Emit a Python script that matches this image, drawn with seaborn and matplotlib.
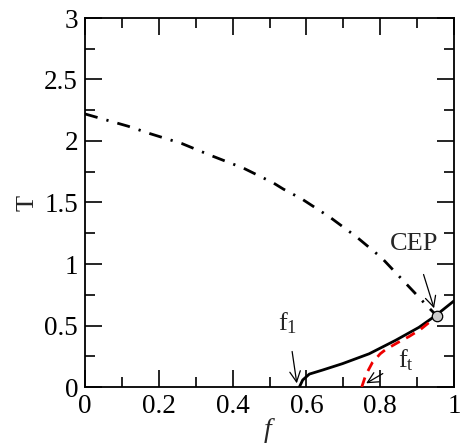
import matplotlib
matplotlib.use("Agg")
import matplotlib.pyplot as plt
import seaborn as sns
import pandas as pd
from matplotlib.ticker import MultipleLocator

# dash-dot curve (upper boundary)
f_dd = [0.0, 0.117, 0.176, 0.262, 0.343, 0.429, 0.51, 0.537, 0.587, 0.664, 0.736, 0.804, 0.867, 0.93, 0.953]
T_dd = [2.22, 2.12, 2.06, 1.98, 1.88, 1.78, 1.66, 1.61, 1.53, 1.38, 1.22, 1.05, 0.85, 0.65, 0.58]

# solid curve
f_solid = [0.581, 0.59, 0.608, 0.644, 0.698, 0.77, 0.842, 0.905, 0.95, 1.0]
T_solid = [0.0, 0.057, 0.105, 0.138, 0.19, 0.27, 0.38, 0.485, 0.58, 0.70]

# red dashed curve
f_red = [0.75, 0.761, 0.779, 0.80, 0.815, 0.85, 0.878, 0.91, 0.941, 0.953]
T_red = [0.0, 0.098, 0.20, 0.27, 0.305, 0.365, 0.41, 0.47, 0.545, 0.58]

cep_f, cep_T = [0.953], [0.58]

sns.set_style("ticks")
plt.rcParams['font.family'] = ['Liberation Serif', 'DejaVu Serif']
plt.rcParams['mathtext.fontset'] = 'custom'
plt.rcParams['mathtext.rm'] = 'Liberation Serif'
plt.rcParams['mathtext.it'] = 'Liberation Serif:italic'

fig = plt.figure(figsize=(4.61, 4.48), dpi=100)
ax = fig.add_axes([85/461, 1-387/448, 369/461, 369/448])

df_dd = pd.DataFrame({"f": f_dd, "T": T_dd})
df_s = pd.DataFrame({"f": f_solid, "T": T_solid})
df_r = pd.DataFrame({"f": f_red, "T": T_red})

sns.lineplot(data=df_dd, x="f", y="T", ax=ax, color="black", lw=2.0, sort=False,
             estimator=None)
ax.lines[-1].set_dashes([4.7, 3.3, 0.8, 3.3])
sns.lineplot(data=df_s, x="f", y="T", ax=ax, color="black", lw=2.0, sort=False,
             estimator=None)
sns.lineplot(data=df_r, x="f", y="T", ax=ax, color="#ee0000", lw=2.0, sort=False,
             estimator=None)
ax.lines[-1].set_dashes([3.6, 2.6])
ax.lines[-1].set_zorder(3)
ax.plot(cep_f, cep_T, 'o', ms=7.5, mfc="#cccccc", mec="black", mew=0.9, zorder=5)

ax.set_xlim(0, 1)
ax.set_ylim(0, 3)
ax.xaxis.set_minor_locator(MultipleLocator(0.1))
ax.yaxis.set_minor_locator(MultipleLocator(0.25))
ax.set_xticks([0, 0.2, 0.4, 0.6, 0.8, 1.0])
ax.set_xticklabels(["0", "0.2", "0.4", "0.6", "0.8", "1"])
ax.set_yticks([0, 0.5, 1, 1.5, 2, 2.5, 3])
ax.set_yticklabels(["0", "0.5", "1", "1.5", "2", "2.5", "3"])
ax.tick_params(which="both", direction="in", top=True, right=True, width=1.2,
               color="black", labelsize=19.5, labelcolor="black")
ax.tick_params(which="major", length=12, pad=5)
ax.tick_params(which="minor", length=7)
for s in ax.spines.values():
    s.set_linewidth(1.3)
    s.set_color("black")

ax.set_xlabel("$f$", fontsize=20, labelpad=-2)
ax.set_ylabel("T", fontsize=19, labelpad=4)

ax.annotate("CEP", xy=(0.946, 0.64), xytext=(0.892, 1.16), fontsize=19,
            ha="center", va="center",
            arrowprops=dict(arrowstyle="->", color="black", lw=0.9,
                            shrinkA=12, shrinkB=0))
ax.annotate("f$_{\\mathrm{1}}$", xy=(0.574, 0.03), xytext=(0.55, 0.52), fontsize=19,
            ha="center", va="center",
            arrowprops=dict(arrowstyle="->", color="black", lw=0.9,
                            shrinkA=9, shrinkB=0))
ax.annotate("f$_{\\mathrm{t}}$", xy=(0.762, 0.03), xytext=(0.87, 0.22), fontsize=19,
            ha="center", va="center",
            arrowprops=dict(arrowstyle="->", color="black", lw=0.9,
                            shrinkA=10, shrinkB=0))

fig.savefig("out.png", dpi=100)
